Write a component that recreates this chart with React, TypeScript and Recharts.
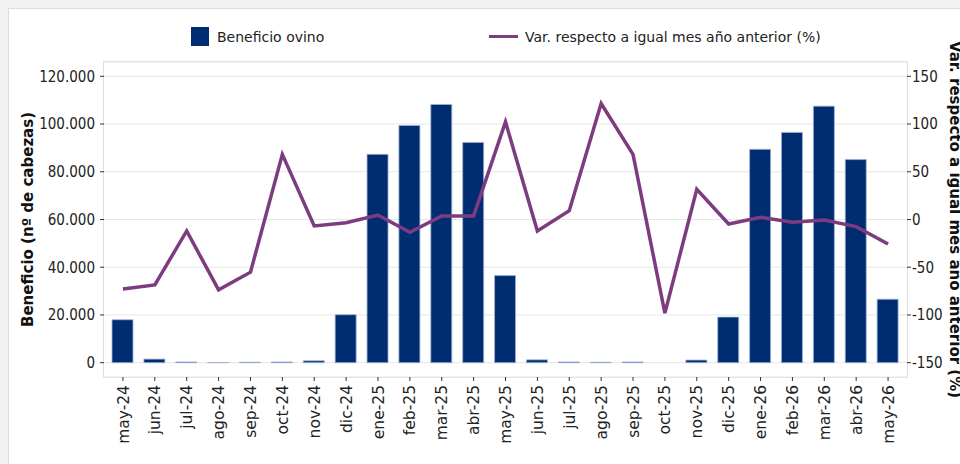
import React from "react";
import {
  Bar,
  CartesianGrid,
  ComposedChart,
  Line,
  XAxis,
  YAxis,
} from "recharts";

document.body.style.margin = "0";

const months = [
  "may-24", "jun-24", "jul-24", "ago-24", "sep-24", "oct-24", "nov-24", "dic-24",
  "ene-25", "feb-25", "mar-25", "abr-25", "may-25", "jun-25", "jul-25", "ago-25",
  "sep-25", "oct-25", "nov-25", "dic-25", "ene-26", "feb-26", "mar-26", "abr-26",
  "may-26",
];

// cabezas sacrificadas
const beneficio = [
  18000, 1500, 300, 100, 200, 300, 800, 20100,
  87300, 99400, 108200, 92300, 36500, 1200, 300, 200,
  300, 0, 1100, 19100, 89400, 96500, 107500, 85100,
  26600,
];

// var. interanual (%)
const variacion = [
  -72.7, -68.5, -12, -73.7, -55.2, 68.2, -6.8, -3.3,
  4.7, -13.4, 3.7, 3.7, 102.3, -12, 9.2, 121.5,
  68.2, -98.1, 31.6, -4.7, 2.3, -2.9, -0.5, -7.5,
  -25.6,
];

const leftTicks = [0, 20000, 40000, 60000, 80000, 100000, 120000];
const rightTicks = [-150, -100, -50, 0, 50, 100, 150];

const data = months.map((m, i) => ({
  mes: m,
  beneficio: beneficio[i],
  variacion: variacion[i],
}));

const BAR = "#002d72";
const LINE = "#7d3c80";
const FONT = "'DejaVu Sans', sans-serif";
const FONT_COND = "'DejaVu Sans Condensed', 'DejaVu Sans', sans-serif";

const miles = (v: number) => String(v).replace(/\B(?=(\d{3})+(?!\d))/g, ".");

function MonthTick({ x, y, payload }: any) {
  return (
    <text
      transform={`translate(${x},${y + 2}) rotate(-90)`}
      textAnchor="end"
      dy="0.36em"
      fontSize={15.5}
      fontFamily={FONT}
      fill="#222"
    >
      {payload.value}
    </text>
  );
}

function LeftTitle({ viewBox }: any) {
  const cy = viewBox.y + viewBox.height / 2;
  const x = viewBox.x + 33;
  return (
    <text
      transform={`translate(${x},${cy}) rotate(-90)`}
      textAnchor="middle"
      fontSize={15}
      fontWeight="bold"
      fontFamily={FONT}
      fill="#111"
    >
      Beneficio (nº de cabezas)
    </text>
  );
}

function RightTitle({ viewBox }: any) {
  const cy = viewBox.y + viewBox.height / 2;
  const x = viewBox.x + 43;
  return (
    <text
      transform={`translate(${x},${cy}) rotate(90)`}
      textAnchor="middle"
      fontSize={15}
      fontWeight="bold"
      fontFamily={FONT}
      fill="#111"
    >
      Var. respecto a igual mes año anterior (%)
    </text>
  );
}

export default function App() {
  return (
    <div
      style={{
        position: "relative",
        width: 960,
        height: 464,
        background: "#f2f2f2",
        overflow: "hidden",
        fontFamily: FONT,
      }}
    >
      <div
        style={{
          position: "absolute",
          left: 8,
          top: 8,
          width: 960,
          height: 470,
          background: "#fff",
          border: "1px solid #dcdcdc",
        }}
      />
      {/* leyenda */}
      <div style={{ position: "absolute", left: 191, top: 27, height: 19, display: "flex", alignItems: "center", fontSize: 14, color: "#222" }}>
        <span style={{ width: 18, height: 19, background: BAR, display: "inline-block", marginRight: 8 }} />
        Beneficio ovino
      </div>
      <div style={{ position: "absolute", left: 489, top: 27, height: 19, display: "flex", alignItems: "center", fontSize: 14, color: "#222" }}>
        <span style={{ width: 29, height: 3, background: LINE, display: "inline-block", marginRight: 7 }} />
        Var. respecto a igual mes año anterior (%)
      </div>
      <div
        style={{
          position: "absolute",
          left: 103,
          top: 61,
          width: 803,
          height: 315,
          border: "1px solid #e0e0e0",
        }}
      />
      <div style={{ position: "absolute", left: 0, top: 0 }}>
        <ComposedChart
          width={960}
          height={464}
          data={data}
          margin={{ top: 62, right: 0, bottom: 0, left: 0 }}
          barCategoryGap={0}
        >
          <CartesianGrid yAxisId="left" vertical={false} stroke="#e6e6e6" />
          <XAxis
            dataKey="mes"
            interval={0}
            height={87}
            padding={{ left: 3, right: 3 }}
            axisLine={false}
            tickSize={4}
            tickLine={{ stroke: "#333" }}
            tick={<MonthTick />}
          />
          <YAxis
            yAxisId="left"
            width={104}
            domain={[-6000, 126000]}
            ticks={leftTicks}
            tickFormatter={miles}
            axisLine={false}
            tickSize={4}
            tickMargin={5}
            tickLine={{ stroke: "#333" }}
            tick={{ fontSize: 15, fontFamily: FONT_COND, fill: "#222" }}
            label={<LeftTitle />}
          />
          <YAxis
            yAxisId="right"
            orientation="right"
            width={53}
            domain={[-165, 165]}
            ticks={rightTicks}
            axisLine={false}
            tickSize={4}
            tickMargin={1}
            tickLine={{ stroke: "#333" }}
            tick={{ fontSize: 15, fontFamily: FONT_COND, fill: "#222" }}
            label={<RightTitle />}
          />
          <Bar
            yAxisId="left"
            dataKey="beneficio"
            barSize={21}
            fill={BAR}
            stroke="#9fb3d6"
            strokeWidth={0.8}
            isAnimationActive={false}
          />
          <Line
            yAxisId="right"
            dataKey="variacion"
            type="linear"
            stroke={LINE}
            strokeWidth={3.5}
            dot={false}
            activeDot={false}
            isAnimationActive={false}
          />
        </ComposedChart>
      </div>
    </div>
  );
}
